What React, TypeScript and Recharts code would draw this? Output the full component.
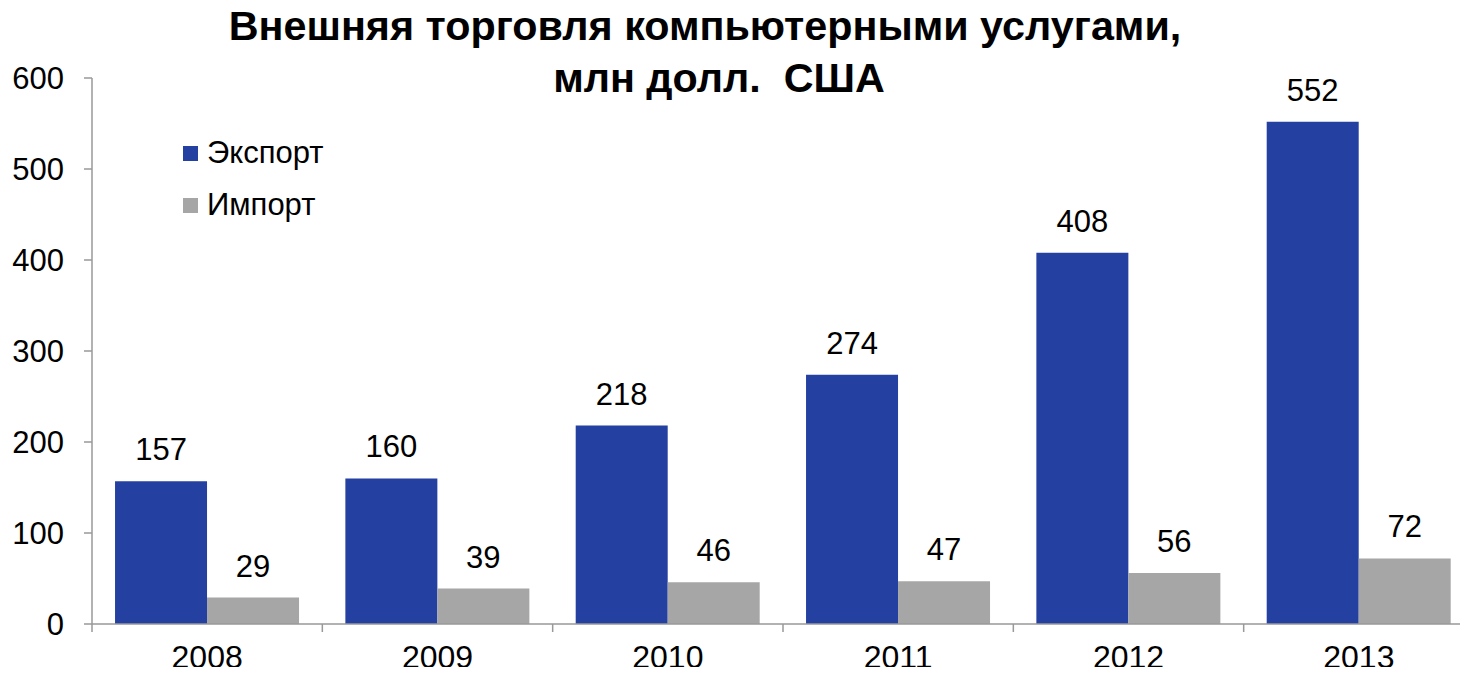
import React from 'react';
import { BarChart, Bar, XAxis, YAxis, LabelList } from 'recharts';

const years = ['2008', '2009', '2010', '2011', '2012', '2013'];
const exportValues = [157, 160, 218, 274, 408, 552];
const importValues = [29, 39, 46, 47, 56, 72];
const yTicks = [0, 100, 200, 300, 400, 500, 600];
const seriesNames = ['Экспорт', 'Импорт'];
const seriesColors = ['#2440A0', '#A6A6A6'];

const data = years.map((y, i) => ({ year: y, exp: exportValues[i], imp: importValues[i] }));

const FONT = 'Arial, "Liberation Sans", sans-serif';
const W = 1468;
const H = 675;
const LEFT = 92;
const RIGHT = -6;
const BAND = (W - LEFT - RIGHT) / years.length;

const XTick = (props: any) => {
  const { x, y, payload } = props;
  const bx = x - BAND / 2;
  return (
    <g>
      <line x1={bx} y1={y - 8} x2={bx} y2={y} stroke="#999" strokeWidth={1.5} />
      <text x={x} y={y + 36} textAnchor="middle" fontSize={32} fontFamily={FONT} fill="#000">
        {payload.value}
      </text>
    </g>
  );
};

const titleStyle: React.CSSProperties = {
  position: 'absolute',
  width: 1200,
  textAlign: 'center',
  fontFamily: FONT,
  fontWeight: 'bold',
  fontSize: 41.3,
  lineHeight: '52px',
  color: '#000',
  whiteSpace: 'pre',
};

export default function App() {
  return (
    <div style={{ position: 'relative', width: W, height: H, margin: -8, background: '#fff', overflow: 'hidden' }}>
      <BarChart
        width={W}
        height={H}
        data={data}
        margin={{ top: 78, right: RIGHT, bottom: 0, left: 0 }}
        barCategoryGap="10%"
        barGap={0}
      >
        <YAxis
          domain={[0, 600]}
          ticks={yTicks}
          width={LEFT}
          axisLine={{ stroke: '#999', strokeWidth: 1.5 }}
          tickLine={{ stroke: '#999', strokeWidth: 1.5 }}
          tickSize={8}
          tickMargin={20}
          tick={{ fontSize: 31, fontFamily: FONT, fill: '#000' }}
          interval={0}
        />
        <XAxis
          dataKey="year"
          height={51}
          axisLine={{ stroke: '#999', strokeWidth: 1.5 }}
          tickLine={false}
          tick={<XTick />}
          interval={0}
        />
        <Bar dataKey="exp" name={seriesNames[0]} fill={seriesColors[0]} isAnimationActive={false}>
          <LabelList dataKey="exp" position="top" offset={21} fontSize={31} fontFamily={FONT} fill="#000" />
        </Bar>
        <Bar dataKey="imp" name={seriesNames[1]} fill={seriesColors[1]} isAnimationActive={false}>
          <LabelList dataKey="imp" position="top" offset={21} fontSize={31} fontFamily={FONT} fill="#000" />
        </Bar>
      </BarChart>
      <div style={{ position: 'absolute', left: 183, top: 127, fontFamily: FONT, fontSize: 31, color: '#000' }}>
        {seriesNames.map((name, i) => (
          <div key={name} style={{ display: 'flex', alignItems: 'center', height: 52 }}>
            <span style={{ display: 'inline-block', width: 15, height: 15, background: seriesColors[i], marginRight: 9 }} />
            <span>{name}</span>
          </div>
        ))}
      </div>
      <div style={{ ...titleStyle, left: 705 - 600, top: 0 }}>Внешняя торговля компьютерными услугами,</div>
      <div style={{ ...titleStyle, left: 719 - 600, top: 52 }}>{'млн долл.  США'}</div>
    </div>
  );
}
